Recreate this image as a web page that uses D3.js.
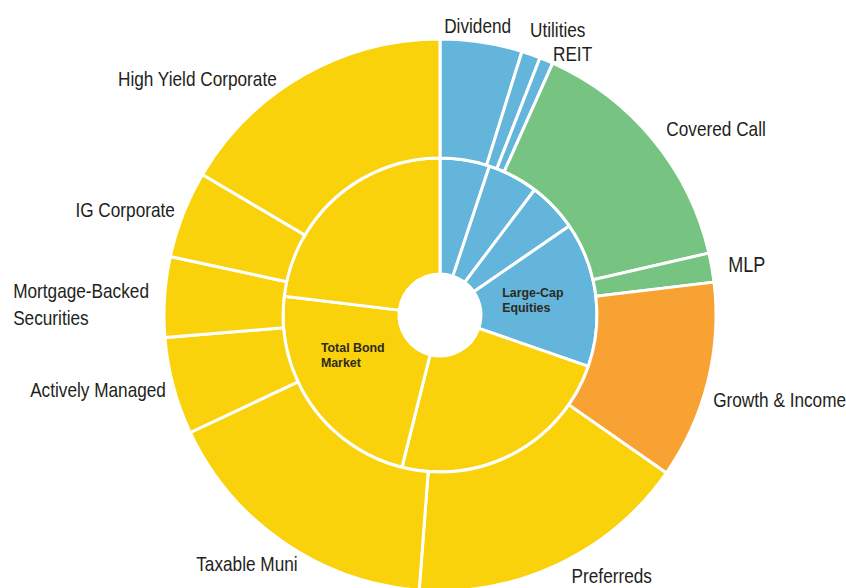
<!DOCTYPE html>
<html>
<head>
<meta charset="utf-8">
<script src="https://cdn.jsdelivr.net/npm/d3@7"></script>
<style>
  html, body { margin: 0; padding: 0; background: #fff; }
  svg { display: block; }
  .outer-label { font-family: "Liberation Sans", Arial, sans-serif; font-size: 21px; fill: #231f20; }
  .inner-label { font-family: "Liberation Sans", Arial, sans-serif; font-size: 12.4px; font-weight: bold; fill: #2e2a20; }
</style>
</head>
<body>
<svg></svg>
<script>
// outer ring (share of portfolio, %)
const outerNames = ["Dividend", "Utilities", "REIT", "Covered Call", "MLP", "Growth & Income",
  "Preferreds", "Taxable Muni", "Actively Managed", "Mortgage-Backed\nSecurities", "IG Corporate", "High Yield Corporate"];
const outerValues = [4.8, 1.1, 0.8, 14.7, 1.7, 11.6, 16.5, 16.8, 5.7, 4.7, 5.1, 16.5];
const outerGroups = ["equity", "equity", "equity", "option", "option", "balanced",
  "bond", "bond", "bond", "bond", "bond", "bond"];

// inner ring
const innerNames = ["", "", "", "Large-Cap\nEquities", "", "Total Bond\nMarket", ""];
const innerValues = [5.1, 5.2, 5.1, 14.9, 23.6, 23.0, 23.1];
const innerGroups = ["equity", "equity", "equity", "equity", "bond", "bond", "bond"];

let w = 846;
let h = 588;
const cx = 440, cy = 315;
const rHole = 41, rMid = 157, rOuter = 276;

var svg = d3.select("svg").attr("width", w).attr("height", h);
var g = svg.append("g").attr("transform", `translate(${cx},${cy})`);

var color = d3.scaleOrdinal()
  .domain(["equity", "option", "balanced", "bond"])
  .range(["#63b5dc", "#76c382", "#f8a233", "#f9d20b"]);

var pie = d3.pie().sort(null).value(d => d.value).startAngle(0).endAngle(2 * Math.PI);

var inner = pie(innerValues.map((v, i) => ({ name: innerNames[i], value: v, group: innerGroups[i] })));
var outer = pie(outerValues.map((v, i) => ({ name: outerNames[i], value: v, group: outerGroups[i] })));

var arcInner = d3.arc().innerRadius(rHole).outerRadius(rMid);
var arcOuter = d3.arc().innerRadius(rMid).outerRadius(rOuter);

g.append("g").selectAll("path")
  .data(inner)
  .enter()
  .append("path")
  .attr("d", arcInner)
  .attr("fill", d => color(d.data.group))
  .attr("stroke", "#fff")
  .attr("stroke-width", 3);

g.append("g").selectAll("path")
  .data(outer)
  .enter()
  .append("path")
  .attr("d", arcOuter)
  .attr("fill", d => color(d.data.group))
  .attr("stroke", "#fff")
  .attr("stroke-width", 3);

// label placement: angle (deg, clockwise from top) and distance from centre
const labelSpots = {
  "Dividend": { a: 7.4, r: 292 },
  "Utilities": { a: 22.4, r: 309 },
  "REIT": { a: 26.9, r: 293 },
  "Covered Call": { a: 56.0, r: 333 },
  "MLP": { a: 80.6, r: 311, size: 22 },
  "Growth & Income": { a: 104.0, r: 350 },
  "Preferreds": { a: 146.6, r: 312 },
  "Taxable Muni": { a: 217.8, r: 315 },
  "Actively Managed": { a: 257.7, r: 350 },
  "Mortgage-Backed\nSecurities": { a: 271.5, r: 427, anchor: "start", lh: 27 },
  "IG Corporate": { a: 288.5, r: 332 },
  "High Yield Corporate": { a: 314.3, r: 339 },
  "Large-Cap\nEquities": { a: 81.0, r: 94, lh: 15, left: true, sx: 1 },
  "Total Bond\nMarket": { a: 245.3, r: 96, lh: 15, left: true, sx: 1 }
};
const narrow = 0.82; // the source uses a condensed face

function polar(a, r) {
  const t = a * Math.PI / 180;
  return [r * Math.sin(t), -r * Math.cos(t)];
}

function addLabel(sel, d, cls) {
  const s = labelSpots[d.data.name];
  if (!s) return;
  const [x, y] = polar(s.a, s.r);
  const sx = s.sx || narrow;
  const lines = d.data.name.split("\n");
  const lh = s.lh || 0;
  const t = sel.append("text")
    .attr("class", cls)
    .attr("text-anchor", s.anchor || "middle")
    .attr("transform", `translate(${x},${y}) scale(${sx},1)`);
  if (s.size) t.style("font-size", s.size + "px");
  lines.forEach((ln, i) => {
    t.append("tspan")
      .attr("x", 0)
      .attr("y", (i - (lines.length - 1) / 2) * lh)
      .attr("dy", "0.35em")
      .text(ln);
  });
  // left-align multi-line blocks around the spot
  if (s.left) {
    const widths = t.selectAll("tspan").nodes().map(n => n.getComputedTextLength());
    t.attr("text-anchor", "start").selectAll("tspan").attr("x", -d3.max(widths) / 2);
  }
}

var labels = g.append("g");
outer.forEach(d => addLabel(labels, d, "outer-label"));
inner.forEach(d => addLabel(labels, d, "inner-label"));
</script>
</body>
</html>
